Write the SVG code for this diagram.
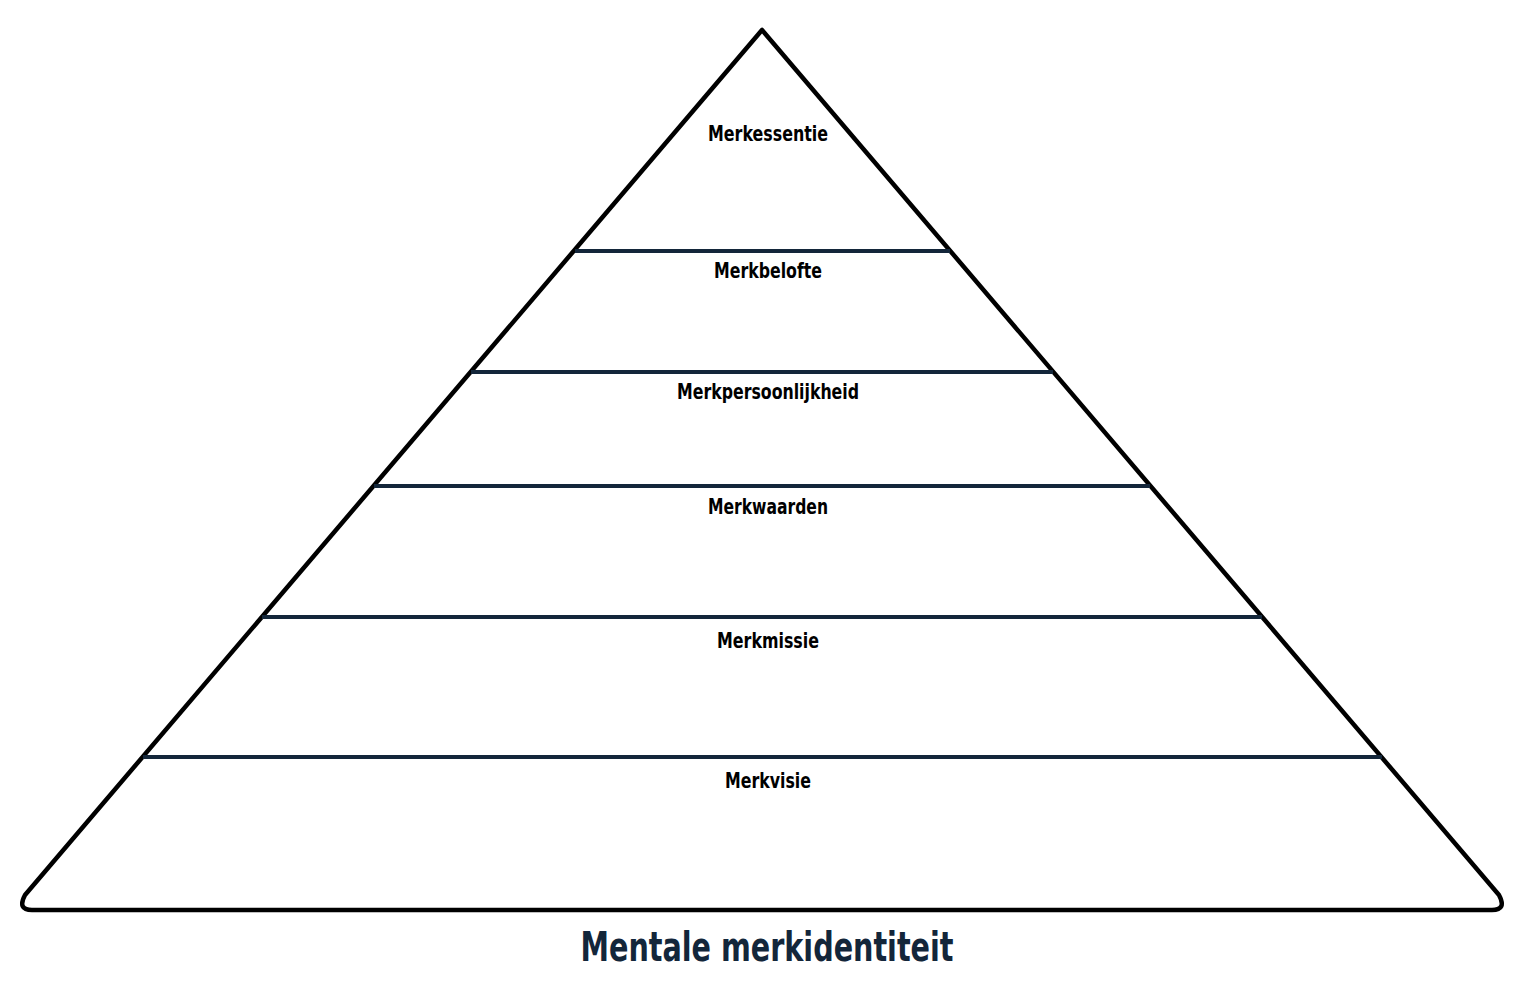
<svg xmlns="http://www.w3.org/2000/svg" width="1526" height="984" viewBox="0 0 1526 984">
<style>
.outline{fill:none;stroke:#000;stroke-width:4.5;stroke-linejoin:round}
.tier{stroke:#13263a;stroke-width:4;fill:none}
.lbl{font-family:"DejaVu Sans Condensed","Liberation Sans",sans-serif;font-weight:bold;font-size:22px;fill:#000;text-anchor:middle}
.title{font-family:"DejaVu Sans Condensed","Liberation Sans",sans-serif;font-weight:bold;font-size:41px;fill:#13263a;text-anchor:middle}
</style>
<rect width="1526" height="984" fill="#fff"/>
<g id="pyramid">
<path class="outline" d="M762,30 L25,895 Q17,910 32,910 L1492,910 Q1507,910 1499,895 Z"/>
</g>
<g id="connectors">
<line class="tier" x1="575" y1="251" x2="950" y2="251"/>
<line class="tier" x1="471" y1="372" x2="1053" y2="372"/>
<line class="tier" x1="374" y1="486" x2="1150" y2="486"/>
<line class="tier" x1="262" y1="617" x2="1262" y2="617"/>
<line class="tier" x1="143" y1="757" x2="1382" y2="757"/>
</g>
<g id="n1"><text class="lbl" x="768" y="141" textLength="120" lengthAdjust="spacingAndGlyphs">Merkessentie</text></g>
<g id="n2"><text class="lbl" x="768" y="278" textLength="108" lengthAdjust="spacingAndGlyphs">Merkbelofte</text></g>
<g id="n3"><text class="lbl" x="768" y="399" textLength="182" lengthAdjust="spacingAndGlyphs">Merkpersoonlijkheid</text></g>
<g id="n4"><text class="lbl" x="768" y="514" textLength="120" lengthAdjust="spacingAndGlyphs">Merkwaarden</text></g>
<g id="n5"><text class="lbl" x="768" y="648" textLength="102" lengthAdjust="spacingAndGlyphs">Merkmissie</text></g>
<g id="n6"><text class="lbl" x="768" y="788" textLength="86" lengthAdjust="spacingAndGlyphs">Merkvisie</text></g>
<g id="title"><text class="title" x="767" y="961" textLength="373" lengthAdjust="spacingAndGlyphs">Mentale merkidentiteit</text></g>
</svg>
